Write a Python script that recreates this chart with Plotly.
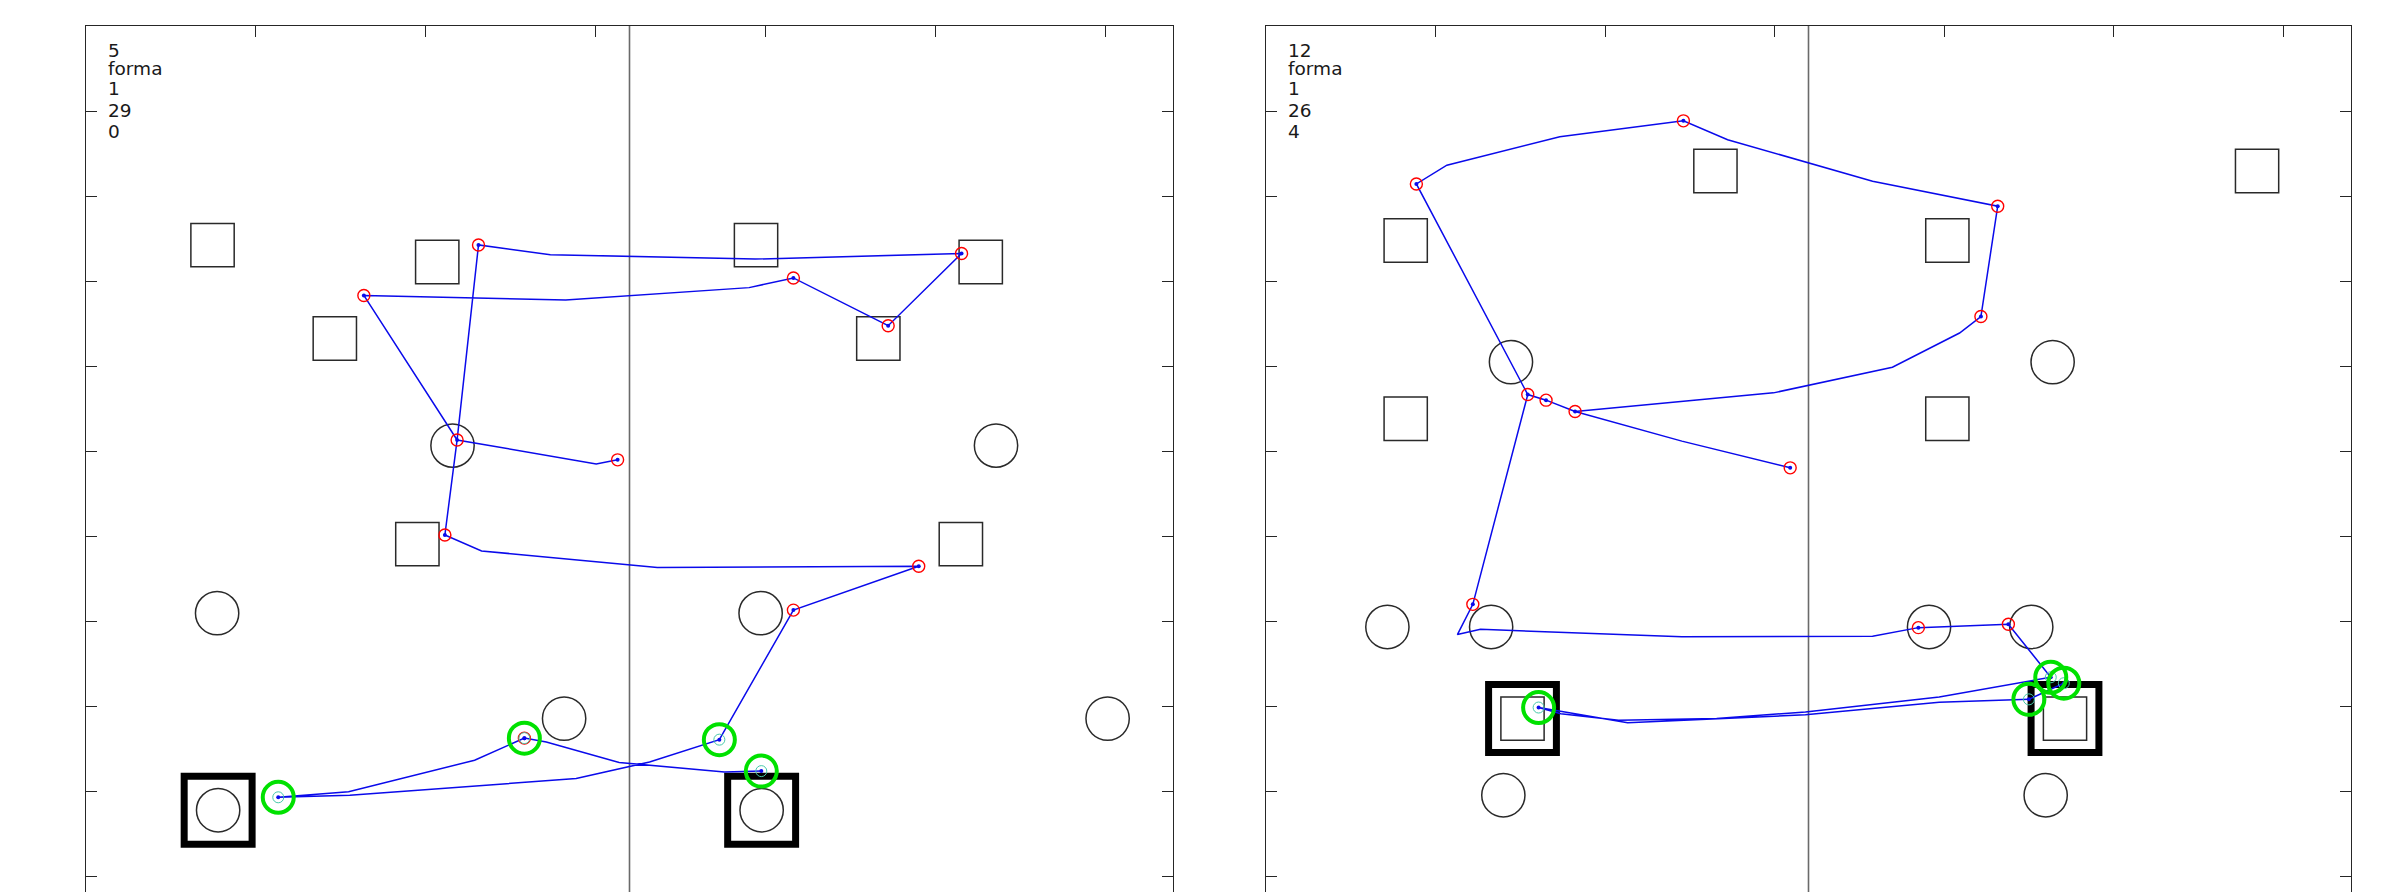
import plotly.graph_objects as go

# ---------------------------------------------------------------- data
# Panel A (left): cones (squares), markers (circles) and base zones
a_square_x = [7.45, 20.68, 14.65, 19.51, 39.45, 52.68, 46.65, 51.51]
a_square_y = [37.11, 36.12, 31.62, 19.52, 37.11, 36.12, 31.62, 19.52]
a_circle_x = [21.58, 7.72, 28.15, 53.58, 39.72, 60.15, 7.78, 39.78]
a_circle_y = [25.32, 15.46, 9.26, 25.32, 15.46, 9.26, 3.87, 3.87]
a_base_x = [7.78, 39.78]
a_base_y = [3.87, 3.87]

# Panel A trajectory (ordered samples)
a_path_x = [31.30, 30.04, 21.85, 16.36, 28.24, 39.04, 41.65, 47.23, 51.55, 39.40,
            27.34, 23.11, 21.85, 21.13, 23.29, 33.64, 49.03, 41.65, 37.29, 33.18,
            28.86, 15.53, 11.32, 15.46, 22.88, 25.81, 27.10, 31.39, 37.59, 39.76]
a_path_y = [24.48, 24.24, 25.65, 34.15, 33.88, 34.61, 35.18, 32.37, 36.62, 36.29,
            36.55, 37.12, 25.65, 20.06, 19.12, 18.15, 18.22, 15.64, 8.02, 6.71,
            5.73, 4.75, 4.63, 4.95, 6.81, 8.11, 7.88, 6.68, 6.12, 6.17]
a_red_x = [31.30, 21.85, 16.36, 41.65, 47.23, 51.55, 23.11, 21.13, 49.03, 41.65, 25.81]
a_red_y = [24.48, 25.65, 34.15, 35.18, 32.37, 36.62, 37.12, 20.06, 18.22, 15.64, 8.11]
a_green_x = [37.29, 11.32, 25.81, 39.76]
a_green_y = [8.02, 4.63, 8.11, 6.17]
a_labels = ["5", "forma", "1", "29", "0"]

# Panel B (right)
b_square_x = [26.51, 58.46, 8.24, 40.19, 8.24, 40.19, 15.13, 47.13]
b_square_y = [41.47, 41.47, 37.38, 37.38, 26.90, 26.90, 9.26, 9.26]
b_circle_x = [14.45, 46.40, 7.16, 13.28, 39.11, 45.14, 14.00, 45.99]
b_circle_y = [30.23, 30.23, 14.65, 14.65, 14.65, 14.65, 4.75, 4.75]
b_base_x = [15.13, 47.13]
b_base_y = [9.26, 9.26]

b_path_x = [30.92, 24.53, 18.23, 29.93, 36.95, 40.91, 42.17, 43.16, 35.78, 27.23,
            24.62, 17.33, 10.67, 8.87, 15.44, 16.52, 18.23, 16.52, 15.44, 12.20,
            11.29, 12.65, 24.53, 35.78, 38.48, 43.79, 46.29, 39.71, 31.82, 26.58,
            20.80, 17.39, 16.08, 21.33, 31.82, 39.71, 45.00, 47.06]
b_path_y = [24.01, 25.58, 27.32, 28.42, 29.93, 31.94, 32.91, 39.40, 40.87, 43.31,
            44.42, 43.48, 41.81, 40.71, 28.32, 27.99, 27.32, 27.99, 28.32, 15.98,
            14.20, 14.51, 14.07, 14.10, 14.61, 14.81, 11.69, 10.53, 9.65, 9.26,
            9.16, 9.55, 9.91, 9.01, 9.48, 10.22, 10.39, 11.34]
b_red_x = [30.92, 18.23, 16.52, 15.44, 8.87, 24.62, 43.16, 42.17, 12.20, 38.48, 43.79]
b_red_y = [24.01, 27.32, 27.99, 28.32, 40.71, 44.42, 39.40, 32.91, 15.98, 14.61, 14.81]
b_green_x = [16.08, 46.29, 47.06, 45.00]
b_green_y = [9.91, 11.69, 11.34, 10.39]
b_labels = ["12", "forma", "1", "26", "4"]

x_ticks = [10, 20, 30, 40, 50, 60]
y_ticks = [0, 5, 10, 15, 20, 25, 30, 35, 40, 45]
label_y = [48.54, 47.51, 46.33, 45.01, 43.81]
mid_line_x = 32

# ---------------------------------------------------------------- layout constants
W, H = 2399, 892
TOP = 26
PX_PER_UNIT = 17.0
Y_TOP = 50.0
Y_BOTTOM = Y_TOP - (H - TOP) / PX_PER_UNIT
X_RANGE = [0, 64]
PANELS = [(86, 1173), (1266, 2351)]

SQ = 2.55        # cone square side (data units)
CIRC = 2.55      # marker circle diameter
BASE = 4.0       # base zone side
FRAME = "#262626"
OUTLINE = "#2a2a2a"
BLUE = "rgb(10,10,235)"
GREEN = "rgb(0,225,0)"

fig = go.Figure()
shapes = []
annotations = []

panels = [
    ("x", "y", a_square_x, a_square_y, a_circle_x, a_circle_y, a_base_x, a_base_y,
     a_path_x, a_path_y, a_red_x, a_red_y, a_green_x, a_green_y, a_labels),
    ("x2", "y2", b_square_x, b_square_y, b_circle_x, b_circle_y, b_base_x, b_base_y,
     b_path_x, b_path_y, b_red_x, b_red_y, b_green_x, b_green_y, b_labels),
]

for (xr, yr, sqx, sqy, cx, cy, bx, by, px, py, rx, ry, gx, gy, labels) in panels:
    # halfway line
    shapes.append(dict(type="line", xref=xr, yref=yr, x0=mid_line_x, x1=mid_line_x,
                       y0=Y_BOTTOM, y1=Y_TOP, line=dict(color="#6a6a6a", width=1.6),
                       layer="below"))
    for x, y in zip(sqx, sqy):
        shapes.append(dict(type="rect", xref=xr, yref=yr,
                           x0=x - SQ / 2, x1=x + SQ / 2, y0=y - SQ / 2, y1=y + SQ / 2,
                           line=dict(color=OUTLINE, width=1.5), layer="below"))
    for x, y in zip(cx, cy):
        shapes.append(dict(type="circle", xref=xr, yref=yr,
                           x0=x - CIRC / 2, x1=x + CIRC / 2, y0=y - CIRC / 2, y1=y + CIRC / 2,
                           line=dict(color=OUTLINE, width=1.5), layer="below"))
    for x, y in zip(bx, by):
        shapes.append(dict(type="rect", xref=xr, yref=yr,
                           x0=x - BASE / 2, x1=x + BASE / 2, y0=y - BASE / 2, y1=y + BASE / 2,
                           line=dict(color="black", width=7), layer="below"))

    # trajectory
    fig.add_trace(go.Scatter(x=px, y=py, xaxis=xr, yaxis=yr, mode="lines",
                             line=dict(color=BLUE, width=1.5),
                             hoverinfo="skip", showlegend=False))
    # waypoints
    fig.add_trace(go.Scatter(x=rx, y=ry, xaxis=xr, yaxis=yr, mode="markers",
                             marker=dict(symbol="circle-open", size=12, color="red",
                                         line=dict(width=1.4)),
                             hoverinfo="skip", showlegend=False))
    fig.add_trace(go.Scatter(x=rx + gx, y=ry + gy, xaxis=xr, yaxis=yr, mode="markers",
                             marker=dict(symbol="circle", size=4, color=BLUE),
                             hoverinfo="skip", showlegend=False))
    # stops
    fig.add_trace(go.Scatter(x=gx, y=gy, xaxis=xr, yaxis=yr, mode="markers",
                             marker=dict(symbol="circle-open", size=11,
                                         color="rgb(70,200,170)", line=dict(width=1)),
                             hoverinfo="skip", showlegend=False))
    fig.add_trace(go.Scatter(x=gx, y=gy, xaxis=xr, yaxis=yr, mode="markers",
                             marker=dict(symbol="circle-open", size=31, color=GREEN,
                                         line=dict(width=4)),
                             hoverinfo="skip", showlegend=False))

    for txt, ly in zip(labels, label_y):
        annotations.append(dict(text=txt, xref=xr, yref=yr, x=1.15, y=ly,
                                xanchor="left", yanchor="middle", showarrow=False,
                                font=dict(family="DejaVu Sans", size=18.5, color="#1a1a1a")))

def x_axis(domain, **kw):
    d = dict(domain=domain, range=X_RANGE, showgrid=False, zeroline=False,
             showticklabels=False, tickvals=x_ticks, ticks="inside",
             tickcolor=FRAME, tickwidth=1.2)
    d.update(kw)
    return d

def y_axis(anchor):
    return dict(domain=[0, 1], range=[Y_BOTTOM, Y_TOP], anchor=anchor, showgrid=False,
                zeroline=False, showticklabels=False, tickvals=y_ticks,
                ticks="inside", ticklen=11, tickcolor=FRAME, tickwidth=1.2,
                showline=True, linecolor=FRAME, linewidth=1.2, mirror="ticks")

dom = [[p0 / W, p1 / W] for p0, p1 in PANELS]

fig.update_layout(
    width=W, height=H,
    margin=dict(l=0, r=0, t=TOP, b=0),
    paper_bgcolor="white", plot_bgcolor="white",
    xaxis=x_axis(dom[0], side="top", anchor="y", ticklen=11, showline=True,
                 linecolor=FRAME, linewidth=1.2),
    yaxis=y_axis("x"),
    xaxis2=x_axis(dom[1], side="top", anchor="y2", ticklen=11, showline=True,
                  linecolor=FRAME, linewidth=1.2),
    yaxis2=y_axis("x2"),
    xaxis3=x_axis(dom[0], side="bottom", anchor="y", overlaying="x", ticklen=6,
                  showline=False),
    xaxis4=x_axis(dom[1], side="bottom", anchor="y2", overlaying="x2", ticklen=6,
                  showline=False),
    shapes=shapes,
    annotations=annotations,
)

fig.write_html("out.html")
